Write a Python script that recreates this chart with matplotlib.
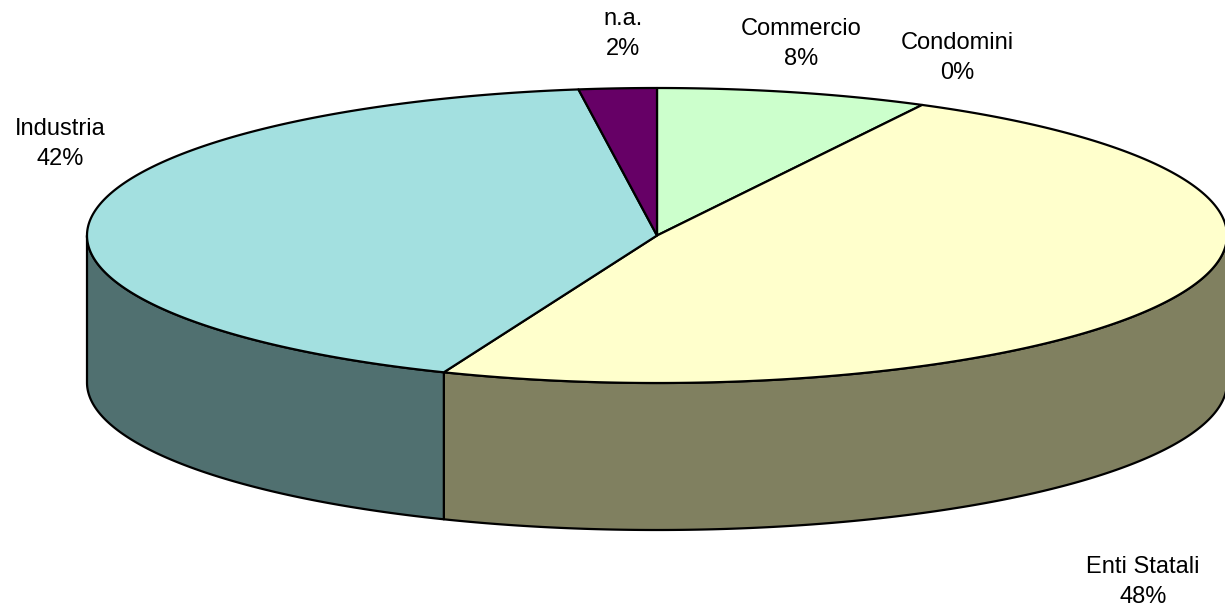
import numpy as np
import matplotlib
matplotlib.use("Agg")
import matplotlib.pyplot as plt
from matplotlib.patches import Polygon

plt.rcParams['font.family'] = ['Liberation Sans', 'DejaVu Sans']

# Data (order: clockwise from 12 o'clock)
categories = ["Commercio", "Condomini", "Enti Statali", "Industria", "n.a."]
values = [7.7, 0.0, 48.4, 41.7, 2.2]
top_colors = ["#CCFFCC", "#FFFFCC", "#FFFFCC", "#A3E0E0", "#660066"]
side_colors = ["#66806A", "#808066", "#808060", "#507070", "#330033"]
label_pos = [(801, 44), (957, 58), (1143, 582), (60, 144), (623, 34)]

W, H = 1225, 609
fig = plt.figure(figsize=(W / 100, H / 100), dpi=100)
ax = fig.add_axes([0, 0, 1, 1])
ax.set_xlim(0, W)
ax.set_ylim(H, 0)
ax.axis("off")

cx, cy, a, b, depth = 657, 235.5, 570, 147.5, 147
lw = 1.6


def pt(theta_deg, dy=0.0):
    t = np.deg2rad(theta_deg)
    return cx + a * np.sin(t), cy - b * np.cos(t) + dy


total = float(sum(values))
angles = np.concatenate([[0.0], np.cumsum(values) / total * 360.0])

# Side walls (front half: 90..270 deg)
for i in range(len(values)):
    t0, t1 = max(angles[i], 90.0), min(angles[i + 1], 270.0)
    if t1 <= t0:
        continue
    ts = np.linspace(t0, t1, 200)
    top = [pt(t) for t in ts]
    bot = [pt(t, depth) for t in ts[::-1]]
    ax.add_patch(Polygon(top + bot, closed=True, facecolor=side_colors[i],
                         edgecolor="black", linewidth=lw, joinstyle="round"))

# Top face wedges
for i in range(len(values)):
    t0, t1 = angles[i], angles[i + 1]
    if t1 <= t0:
        continue
    n = max(2, int((t1 - t0) * 2))
    ts = np.linspace(t0, t1, n)
    pts = [(cx, cy)] + [pt(t) for t in ts]
    ax.add_patch(Polygon(pts, closed=True, facecolor=top_colors[i],
                         edgecolor="black", linewidth=lw, joinstyle="round"))

# Labels
for i, name in enumerate(categories):
    pct = int(round(values[i] / total * 100))
    x, y = label_pos[i]
    ax.text(x, y, f"{name}\n{pct}%", ha="center", va="center",
            fontsize=17, linespacing=1.42, color="black")

fig.savefig("out.png", dpi=100)
